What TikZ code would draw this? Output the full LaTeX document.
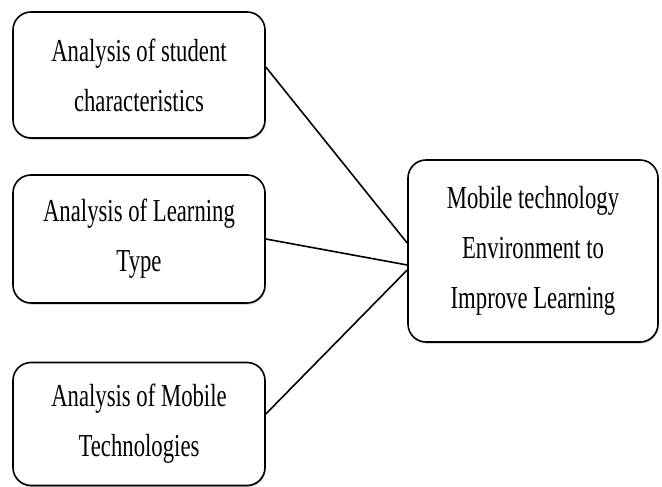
\documentclass[tikz,border=0pt]{standalone}
\usepackage{fontspec}
\setmainfont[FakeStretch=0.71]{Liberation Serif}
\usepackage{tikz}
\usetikzlibrary{shapes,shadows}

\begin{document}
\begin{tikzpicture}[x=1pt, y=1pt,
    stage/.style={rectangle, rounded corners=18pt, draw, line width=1.6pt, fill=white,
        align=center, font=\fontsize{32}{50}\selectfont,
        drop shadow={shadow xshift=0.8pt, shadow yshift=-1.6pt, fill=black!45}},
    link/.style={line width=1.6pt}]
    \useasboundingbox (0,0) rectangle (662,487);

    % Analysis stages
    \node (student) [stage, minimum width=252, minimum height=126] at (139,412) {Analysis of student\\characteristics};
    \node (learning) [stage, minimum width=252, minimum height=128] at (139,248) {Analysis of Learning\\Type};
    \node (mobile) [stage, minimum width=252, minimum height=123] at (139,63) {Analysis of Mobile\\Technologies};

    % Resulting environment
    \node (env) [stage, minimum width=250, minimum height=182] at (533,236) {Mobile technology\\Environment to\\Improve Learning};

    % Connections
    \draw[link] ([yshift=8pt]student.east) -- ([yshift=8pt]env.west);
    \draw[link] (learning.east) -- ([yshift=-14pt]env.west);
    \draw[link] ([yshift=10pt]mobile.east) -- ([yshift=-19pt]env.west);
\end{tikzpicture}
\end{document}
